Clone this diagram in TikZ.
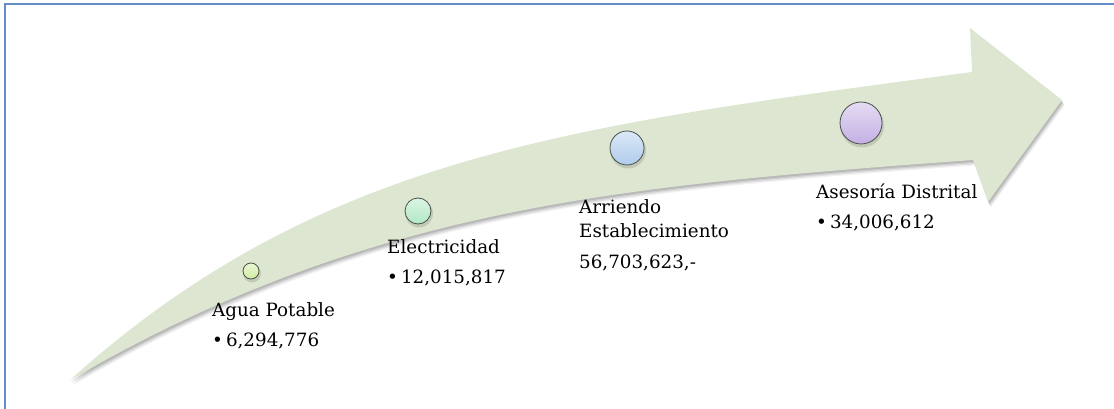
\documentclass[tikz,border=0pt]{standalone}
\usepackage{fontspec}
\setmainfont{DejaVu Serif}
\begin{document}
\begin{tikzpicture}[x=1pt,y=-1pt,
  arrowfill/.style={fill=bandgreen},
  dot/.style={circle,draw=dotline,line width=0.8pt,inner sep=0pt,top color=#1!45!white,bottom color=#1},
  lbl/.style={anchor=base west,inner sep=0pt,text=black,font=\fontsize{18.3}{22}\selectfont},
  framecol/.style={draw=frameblue,line width=1.6pt}]
\definecolor{bandgreen}{RGB}{221,230,209}
\definecolor{dotline}{RGB}{75,80,75}
\definecolor{frameblue}{RGB}{100,140,200}
\definecolor{cA}{RGB}{208,236,160}
\definecolor{cB}{RGB}{176,232,196}
\definecolor{cC}{RGB}{176,204,236}
\definecolor{cD}{RGB}{196,176,228}
\useasboundingbox (0,0) rectangle (1114,409);
% frame
\draw[framecol] (5,412) -- (5,4) -- (1116,4);
% arrow shadow
\foreach \s/\o in {4.5/0.05,3.5/0.07,2.5/0.09,1.5/0.1}{
  \fill[black,opacity=\o,shift={(0.6*\s,1.2*\s)}]
    (70,380) .. controls (320,155) and (572,125.6) .. (972,72) -- (970,28) -- (1062,100) -- (988,202) -- (973,160) .. controls (623,185.6) and (370,206) .. (70,380) -- cycle;
}
% arrow
\path[arrowfill] (70,380) .. controls (320,155) and (572,125.6) .. (972,72) -- (970,28) -- (1062,100) -- (988,202) -- (973,160) .. controls (623,185.6) and (370,206) .. (70,380) -- cycle;
% dot shadows
\foreach \x/\y/\r in {251/271/8,418/211/13,627/148/17,861/123/21}{
  \fill[black,opacity=0.12] (\x+1,\y+2.5) circle (\r+1);
}
% dots
\node[dot=cA,minimum size=16pt] (d1) at (251,271) {};
\node[dot=cB,minimum size=26pt] (d2) at (418,211) {};
\node[dot=cC,minimum size=34pt] (d3) at (627,148) {};
\node[dot=cD,minimum size=42pt] (d4) at (861,123) {};
% labels
\node[lbl] (t1) at (212,316) {Agua Potable};
\node[lbl] (v1) at (212,346) {•\,6,294,776};
\node[lbl] (t2) at (387,253) {Electricidad};
\node[lbl] (v2) at (387,283) {•\,12,015,817};
\node[lbl] (t3a) at (579,213) {Arriendo};
\node[lbl] (t3b) at (579,237) {Establecimiento};
\node[lbl] (v3) at (579,268) {56,703,623,-};
\node[lbl] (t4) at (816,198) {Asesoría Distrital};
\node[lbl] (v4) at (816,228) {•\,34,006,612};
\end{tikzpicture}
\end{document}
